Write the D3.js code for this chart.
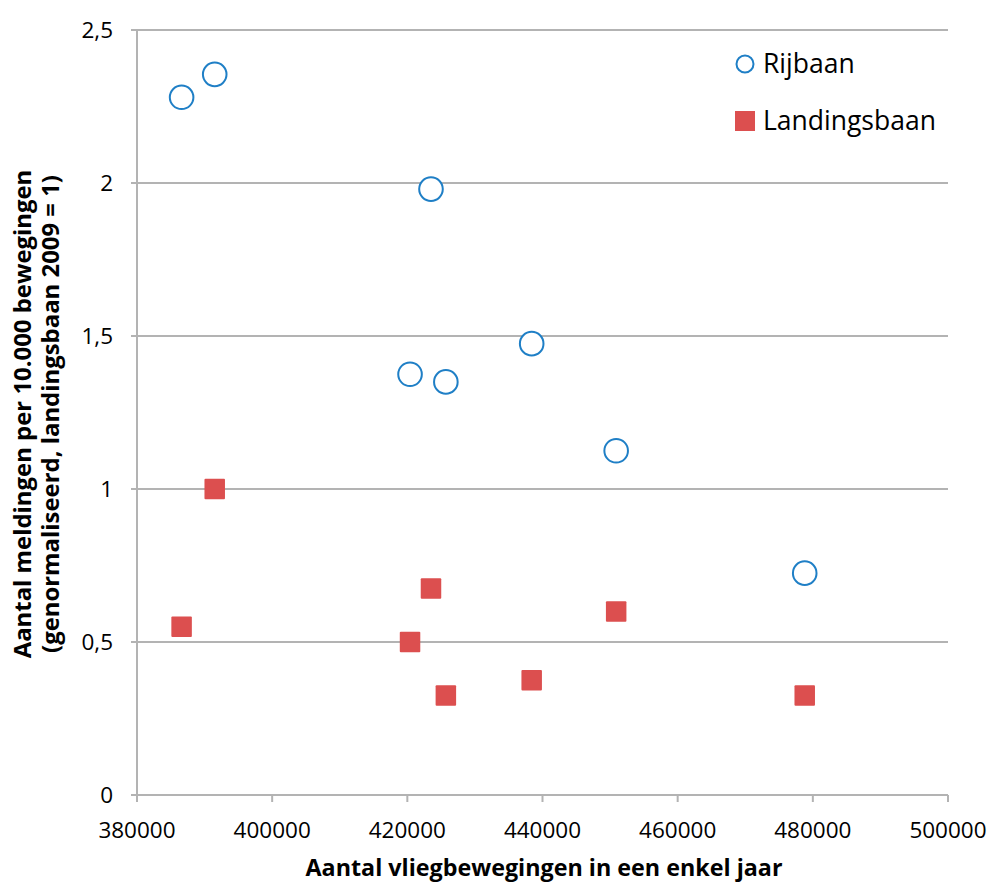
<!DOCTYPE html>
<html>
<head>
<meta charset="utf-8">
<script src="https://cdn.jsdelivr.net/npm/d3@7"></script>
<style>
  body { margin: 0; background: #fff; }
  svg text { font-family: "Open Sans", "Noto Sans", sans-serif; fill: #000; }
</style>
</head>
<body>
<div id="chart"></div>
<script>
// movements per year (x) and normalised reports per 10.000 movements (y)
var movements = [386600, 391500, 423500, 420400, 425700, 438400, 450900, 478800];
var rijbaan = [2.28, 2.355, 1.98, 1.375, 1.35, 1.475, 1.125, 0.725];
var landingsbaan = [0.55, 1.0, 0.675, 0.5, 0.325, 0.375, 0.6, 0.325];

var xTicks = [380000, 400000, 420000, 440000, 460000, 480000, 500000];
var yTicks = [0, 0.5, 1, 1.5, 2, 2.5];

var seriesNames = ["Rijbaan", "Landingsbaan"];

var width = 990, height = 883;
var margin = {left: 137, right: 42, top: 30, bottom: 88};

var svg = d3.select("#chart").append("svg")
	.attr("width", width)
	.attr("height", height);

var x = d3.scaleLinear().domain([380000, 500000]).range([margin.left, width - margin.right]);
var y = d3.scaleLinear().domain([0, 2.5]).range([height - margin.bottom, margin.top]);

var gridColor = "#b3b3b3";

// horizontal gridlines
svg.append("g")
	.selectAll("line")
	.data(yTicks)
	.join("line")
	.attr("x1", margin.left - 6)
	.attr("x2", width - margin.right)
	.attr("y1", d => y(d))
	.attr("y2", d => y(d))
	.attr("stroke", gridColor)
	.attr("stroke-width", 2);

// y axis line
svg.append("line")
	.attr("x1", margin.left).attr("x2", margin.left)
	.attr("y1", y(2.5)).attr("y2", y(0))
	.attr("stroke", gridColor)
	.attr("stroke-width", 2);

// x axis ticks
svg.append("g")
	.selectAll("line")
	.data(xTicks)
	.join("line")
	.attr("x1", d => x(d)).attr("x2", d => x(d))
	.attr("y1", y(0)).attr("y2", y(0) + 7)
	.attr("stroke", gridColor)
	.attr("stroke-width", 2);

// tick labels
svg.append("g")
	.selectAll("text")
	.data(yTicks)
	.join("text")
	.attr("x", 113)
	.attr("y", d => y(d))
	.attr("dy", "0.35em")
	.attr("text-anchor", "end")
	.attr("font-size", 22.5)
	.text(d => String(d).replace(".", ","));

svg.append("g")
	.selectAll("text")
	.data(xTicks)
	.join("text")
	.attr("x", d => x(d))
	.attr("y", 838)
	.attr("text-anchor", "middle")
	.attr("font-size", 22.5)
	.text(d => d);

// axis titles
svg.append("text")
	.attr("x", 544)
	.attr("y", 876)
	.attr("text-anchor", "middle")
	.attr("font-size", 23.3)
	.attr("font-weight", "bold")
	.text("Aantal vliegbewegingen in een enkel jaar");

var yTitle = svg.append("text")
	.attr("transform", "translate(31,414) rotate(-90)")
	.attr("text-anchor", "middle")
	.attr("font-size", 23.9)
	.attr("font-weight", "bold");
yTitle.append("tspan").attr("x", 0).attr("y", 0).text("Aantal meldingen per 10.000 bewegingen");
yTitle.append("tspan").attr("x", 0).attr("y", 28).text("(genormaliseerd, landingsbaan 2009 = 1)");

var blue = "#1f7fc6";
var red = "#dc4f4f";

// Rijbaan circles
svg.append("g")
	.selectAll("circle")
	.data(movements)
	.join("circle")
	.attr("cx", d => x(d))
	.attr("cy", (d, i) => y(rijbaan[i]))
	.attr("r", 11.8)
	.attr("fill", "#fff")
	.attr("stroke", blue)
	.attr("stroke-width", 2);

// Landingsbaan squares
var sq = 20.5;
svg.append("g")
	.selectAll("rect")
	.data(movements)
	.join("rect")
	.attr("x", d => x(d) - sq / 2)
	.attr("y", (d, i) => y(landingsbaan[i]) - sq / 2)
	.attr("width", sq)
	.attr("height", sq)
	.attr("rx", 1)
	.attr("fill", red);

// legend
var legend = svg.append("g").attr("transform", "translate(745,0)");
legend.append("circle")
	.attr("cx", 0).attr("cy", 64).attr("r", 8.5)
	.attr("fill", "#fff").attr("stroke", blue).attr("stroke-width", 2);
legend.append("rect")
	.attr("x", -10).attr("y", 111).attr("width", 20).attr("height", 20)
	.attr("fill", red);
legend.selectAll("text")
	.data(seriesNames)
	.join("text")
	.attr("x", 18)
	.attr("y", (d, i) => 73 + i * 57)
	.attr("font-size", 26.5)
	.text(d => d);
</script>
</body>
</html>
